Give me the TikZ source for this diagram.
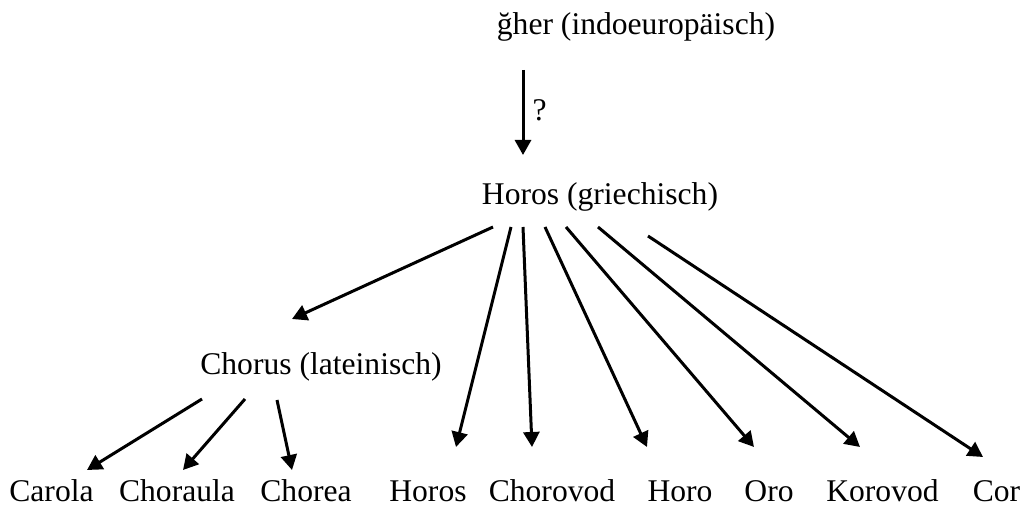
\documentclass[tikz,border=0pt]{standalone}
\usepackage{fontspec}
\setmainfont{Liberation Serif}
\usetikzlibrary{arrows.meta,calc}
\begin{document}
\begin{tikzpicture}[x=1pt,y=1pt,
  lbl/.style={inner sep=0pt,anchor=base,font=\fontsize{31.6}{38}\selectfont},
  arr/.style={line width=3pt,-{Triangle[length=15pt,width=16pt]}}]
\useasboundingbox (0,0) rectangle (1023,506);
% nodes
\node[lbl] (top) at (636,471) {ğher (indoeuropäisch)};
\node[lbl] (horos) at (600,301) {Horos (griechisch)};
\node[lbl] (chorus) at (321,131) {Chorus (lateinisch)};
\node[lbl] (carola) at (51.5,4) {Carola};
\node[lbl] (choraula) at (177,4) {Choraula};
\node[lbl] (chorea) at (306,4) {Chorea};
\node[lbl] (horosb) at (428,4) {Horos};
\node[lbl] (chorovod) at (552,4) {Chorovod};
\node[lbl] (horo) at (680,4) {Horo};
\node[lbl] (oro) at (769,4) {Oro};
\node[lbl] (korovod) at (882.5,4) {Korovod};
\node[lbl] (cor) at (996.5,4) {Cor};
% connectors
\draw[arr] ($(top.base)+(-113,-35)$) -- node[lbl,pos=0.59,anchor=base west,xshift=8pt] (q) {?} ($(horos.base)+(-77,50)$);
\draw[arr] ($(horos.base)+(-107,-22)$) -- ($(chorus.base)+(-29,56)$);
\draw[arr] ($(horos.base)+(-89,-22)$) -- ($(horosb.base)+(28,55)$);
\draw[arr] ($(horos.base)+(-77,-22)$) -- ($(chorovod.base)+(-20,55)$);
\draw[arr] ($(horos.base)+(-55,-22)$) -- ($(horo.base)+(-33,55)$);
\draw[arr] ($(horos.base)+(-34,-22)$) -- ($(oro.base)+(-15,55)$);
\draw[arr] ($(horos.base)+(-2,-22)$) -- ($(korovod.base)+(-22.5,55)$);
\draw[arr] ($(horos.base)+(48,-31)$) -- ($(cor.base)+(-13.5,45)$);
\draw[arr] ($(chorus.base)+(-119,-24)$) -- ($(carola.base)+(35.5,32)$);
\draw[arr] ($(chorus.base)+(-76,-24)$) -- ($(choraula.base)+(6,32)$);
\draw[arr] ($(chorus.base)+(-44,-25)$) -- ($(chorea.base)+(-14,32)$);
\end{tikzpicture}
\end{document}
